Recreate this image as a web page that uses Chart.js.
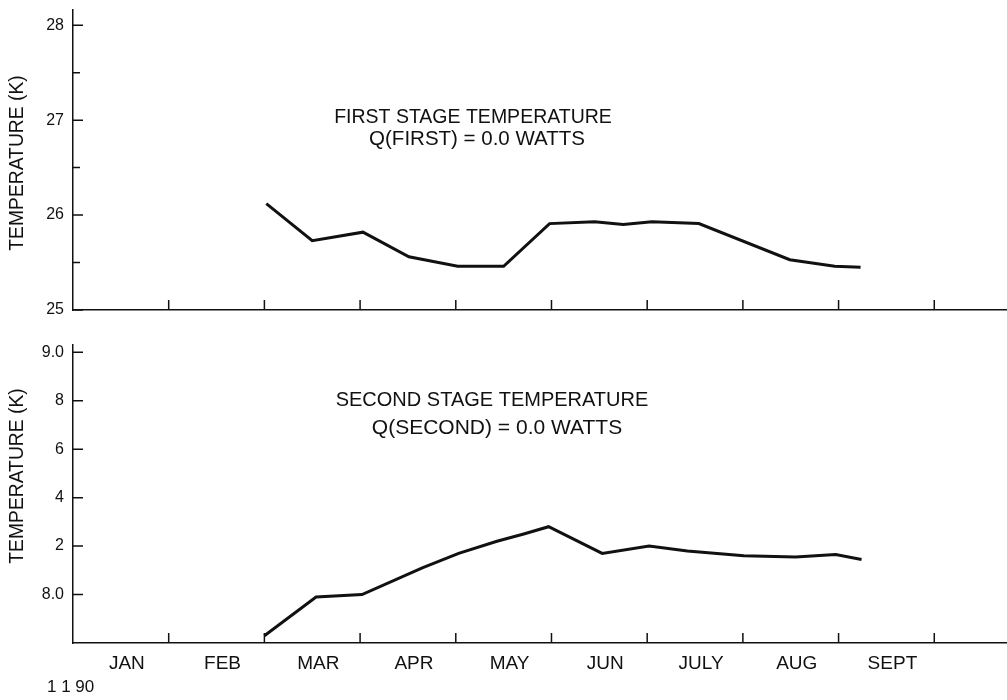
<!DOCTYPE html>
<html><head><meta charset="utf-8">
<script src="https://cdn.jsdelivr.net/npm/chart.js@4.4.1/dist/chart.umd.min.js"></script>
<style>
html,body{margin:0;padding:0;background:#fff;}
#wrap{position:relative;width:1007px;height:700px;background:#fff;}
canvas{position:absolute;left:0;}
#c1{top:0;}
#c2{top:320px;}
</style></head><body>
<div id="wrap">
<canvas id="c1" width="1007" height="320"></canvas>
<canvas id="c2" width="1007" height="380"></canvas>
</div>
<script>
// ---- data (x in months since Jan 1) ----
const months = ["JAN","FEB","MAR","APR","MAY","JUN","JULY","AUG","SEPT"];
const firstStageTime = [2.02, 2.50, 3.03, 3.51, 4.02, 4.50, 4.98, 5.45, 5.75, 6.05, 6.54, 7.49, 7.96, 8.23];
const firstStageTemp = [26.12, 25.73, 25.82, 25.56, 25.46, 25.46, 25.91, 25.93, 25.90, 25.93, 25.91, 25.53, 25.46, 25.45];
const secondStageTime = [2.00, 2.54, 3.02, 3.65, 4.03, 4.43, 4.71, 4.97, 5.53, 6.02, 6.42, 7.01, 7.55, 7.97, 8.24];
const secondStageTemp = [7.83, 7.99, 8.00, 8.11, 8.17, 8.22, 8.25, 8.28, 8.17, 8.20, 8.18, 8.16, 8.155, 8.165, 8.145];
const firstTicks = [25, 26, 27, 28];
const firstTickLabels = ["25", "26", "27", "28"];
const firstMinorTicks = [25.5, 26.5, 27.5];
const secondTicks = [8.0, 8.2, 8.4, 8.6, 8.8, 9.0];
const secondTickLabels = ["8.0", "2", "4", "6", "8", "9.0"];
const secondMinorTicks = [];
const monthBoundaries = [1, 2, 3, 4, 5, 6, 7, 8, 9];

const FONT = '"Liberation Sans", Arial, Helvetica, sans-serif';
const INK = '#111';

function pts(xs, ys){ return xs.map((x,i)=>({x:x, y:ys[i]})); }

function tickMarks(minor){
  return {
    id: 'tickMarks',
    afterDraw(chart){
      const ctx = chart.ctx, xs = chart.scales.x, ys = chart.scales.y;
      ctx.save();
      ctx.strokeStyle = INK;
      ctx.lineWidth = 1.5;
      ctx.beginPath();
      ys.ticks.forEach(t=>{ const p = ys.getPixelForValue(t.value); ctx.moveTo(xs.left, p); ctx.lineTo(xs.left+10, p); });
      minor.forEach(v=>{ const p = ys.getPixelForValue(v); ctx.moveTo(xs.left, p); ctx.lineTo(xs.left+7, p); });
      monthBoundaries.forEach(v=>{ const p = xs.getPixelForValue(v); ctx.moveTo(p, ys.bottom); ctx.lineTo(p, ys.bottom-10); });
      ctx.stroke();
      ctx.restore();
    }
  };
}

function texts(items){
  return {
    id: 'texts',
    afterDraw(chart){
      const ctx = chart.ctx;
      ctx.save();
      ctx.fillStyle = INK;
      ctx.textBaseline = 'middle';
      items.forEach(it=>{
        ctx.font = it.size + 'px ' + FONT;
        ctx.textAlign = it.align || 'center';
        if (it.rot){
          ctx.save(); ctx.translate(it.x, it.y); ctx.rotate(-Math.PI/2);
          ctx.fillText(it.text, 0, 0); ctx.restore();
        } else {
          ctx.fillText(it.text, it.x, it.y);
        }
      });
      ctx.restore();
    }
  };
}

function makeChart(id, opts){
  return new Chart(document.getElementById(id), {
    type: 'line',
    data: { datasets: [{ data: opts.data, borderColor: INK, borderWidth: 3, pointRadius: 0, tension: 0, fill: false }] },
    options: {
      responsive: false,
      animation: false,
      events: [],
      layout: { padding: { top: opts.padTop, left: 0, right: 0, bottom: 0 } },
      plugins: { legend: { display: false }, tooltip: { enabled: false } },
      scales: {
        x: {
          type: 'linear', min: 0, max: 9.76,
          grid: { display: false, drawTicks: false },
          border: { display: true, color: INK, width: 1.5 },
          afterBuildTicks: s => { s.ticks = months.map((m,i)=>({value: i + 0.5})); },
          afterFit: s => { s.height = opts.xHeight; s.paddingLeft = 0; s.paddingRight = 0; },
          ticks: {
            display: opts.showMonths, color: INK, padding: 9, labelOffset: 6,
            maxRotation: 0, autoSkip: false,
            font: { family: FONT, size: 19 },
            callback: (v, i) => months[i]
          }
        },
        y: {
          type: 'linear', min: opts.yMin, max: opts.yMax,
          grid: { display: false, drawTicks: false },
          border: { display: true, color: INK, width: 1.5 },
          afterBuildTicks: s => { s.ticks = opts.ticks.map(v=>({value: v})); },
          afterFit: s => { s.width = 73; s.paddingTop = 0; s.paddingBottom = 0; },
          ticks: {
            color: INK, padding: 9, autoSkip: false,
            font: { family: FONT, size: 16 },
            callback: (v, i) => opts.labels[i]
          }
        }
      }
    },
    plugins: [tickMarks(opts.minor), texts(opts.texts)]
  });
}

makeChart('c1', {
  data: pts(firstStageTime, firstStageTemp),
  yMin: 25, yMax: 28.16, padTop: 10, xHeight: 10, showMonths: false,
  ticks: firstTicks, labels: firstTickLabels, minor: firstMinorTicks,
  texts: [
    { text: 'FIRST STAGE TEMPERATURE', x: 473, y: 118, size: 19.5 },
    { text: 'Q(FIRST) = 0.0 WATTS', x: 477, y: 139, size: 20.5 },
    { text: 'TEMPERATURE (K)', x: 18, y: 163, size: 19.3, rot: true }
  ]
});

makeChart('c2', {
  data: pts(secondStageTime, secondStageTemp),
  yMin: 7.8, yMax: 9.03, padTop: 25, xHeight: 57, showMonths: true,
  ticks: secondTicks, labels: secondTickLabels, minor: secondMinorTicks,
  texts: [
    { text: 'SECOND STAGE TEMPERATURE', x: 492, y: 80, size: 20 },
    { text: 'Q(SECOND) = 0.0 WATTS', x: 497, y: 108, size: 21 },
    { text: 'TEMPERATURE (K)', x: 18, y: 156, size: 19.3, rot: true },
    { text: '1 1 90', x: 47, y: 367, size: 17, align: 'left' }
  ]
});
</script>
</body></html>
